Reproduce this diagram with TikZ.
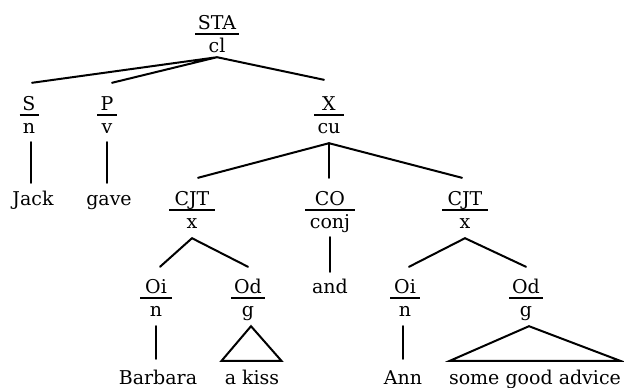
\documentclass[tikz,border=0pt]{standalone}
\usepackage{fontspec}
\setmainfont{DejaVu Serif}
\newcommand\fnlab[6]{%
  \node[txt] (#1t) at (#2,#3) {#4};
  \node[txt] (#1b) at (#2,#3+23) {#5};
  \draw[rulebar] ([xshift=-#6pt,yshift=-4.5pt]#1t.base) -- ([xshift=#6pt,yshift=-4.5pt]#1t.base);
}
\begin{document}
\begin{tikzpicture}[x=1pt,y=-1pt,
  txt/.style={inner sep=0pt, anchor=base, font=\fontsize{19}{22}\selectfont, text height=14pt, text depth=0pt},
  edge/.style={line width=2pt, line cap=round, line join=miter},
  rulebar/.style={line width=2pt}]
\useasboundingbox (0,0) rectangle (624,388);
% labels
\fnlab{sta}{217}{29}{STA}{cl}{22}
\fnlab{s}{29}{110}{S}{n}{9.5}
\fnlab{p}{107}{110}{P}{v}{10}
\fnlab{x}{329}{110}{X}{cu}{15}
\fnlab{cjta}{192}{205}{CJT}{x}{23}
\fnlab{co}{330}{205}{CO}{conj}{25}
\fnlab{cjtb}{465}{205}{CJT}{x}{23}
\fnlab{oia}{156}{293}{Oi}{n}{16}
\fnlab{oda}{248}{293}{Od}{g}{17}
\fnlab{oib}{405}{293}{Oi}{n}{15}
\fnlab{odb}{526}{293}{Od}{g}{17}
% leaves
\node[txt] (jack) at (33,205) {Jack};
\node[txt] (gave) at (109,205) {gave};
\node[txt] (and) at (330,293) {and};
\node[txt] (barbara) at (158,384) {Barbara};
\node[txt] (akiss) at (252,384) {a\ kiss};
\node[txt] (ann) at (403,384) {Ann};
\node[txt] (sga) at (535,384) {some good advice};
% connectors
\draw[edge] ([xshift=3pt,yshift=13pt]st.north) -- ([yshift=-5pt]stab.south) -- ([xshift=5pt,yshift=13pt]pt.north);
\draw[edge] ([yshift=-5pt]stab.south) -- ([xshift=-5pt,yshift=16pt]xt.north);
\draw[edge] ([xshift=2pt,yshift=-9pt]sb.south) -- ([xshift=2pt,yshift=8pt]sb.south |- jack.north);
\draw[edge] ([yshift=-9pt]pb.south) -- ([yshift=8pt]pb.south |- gave.north);
\draw[edge] ([xshift=6pt,yshift=13pt]cjtat.north) -- ([yshift=-10pt]xb.south) -- ([xshift=-3pt,yshift=13pt]cjtbt.north);
\draw[edge] ([yshift=-10pt]xb.south) -- ([yshift=13pt]xb.south |- cot.north);
\draw[edge] ([yshift=-9pt]cob.south) -- ([yshift=7pt]cob.south |- and.north);
\draw[edge] ([xshift=4pt,yshift=12pt]oiat.north) -- ([yshift=-10pt]cjtab.south) -- ([yshift=12pt]odat.north);
\draw[edge] ([xshift=4pt,yshift=12pt]oibt.north) -- ([yshift=-10pt]cjtbb.south) -- ([yshift=12pt]odbt.north);
\draw[edge] ([yshift=-10pt]oiab.south) -- ([yshift=11pt]oiab.south |- barbara.north);
\draw[edge] ([xshift=-2pt,yshift=-10pt]oibb.south) -- ([xshift=-2pt,yshift=11pt]oibb.south |- ann.north);
\draw[edge] ([xshift=-3pt,yshift=9pt]akiss.north west) -- ([xshift=3pt,yshift=-10pt]odab.south) -- ([xshift=2pt,yshift=9pt]akiss.north east) -- cycle;
\draw[edge] ([xshift=1pt,yshift=9pt]sga.north west) -- ([xshift=3pt,yshift=-10pt]odbb.south) -- ([xshift=-1pt,yshift=9pt]sga.north east) -- cycle;
\end{tikzpicture}
\end{document}
